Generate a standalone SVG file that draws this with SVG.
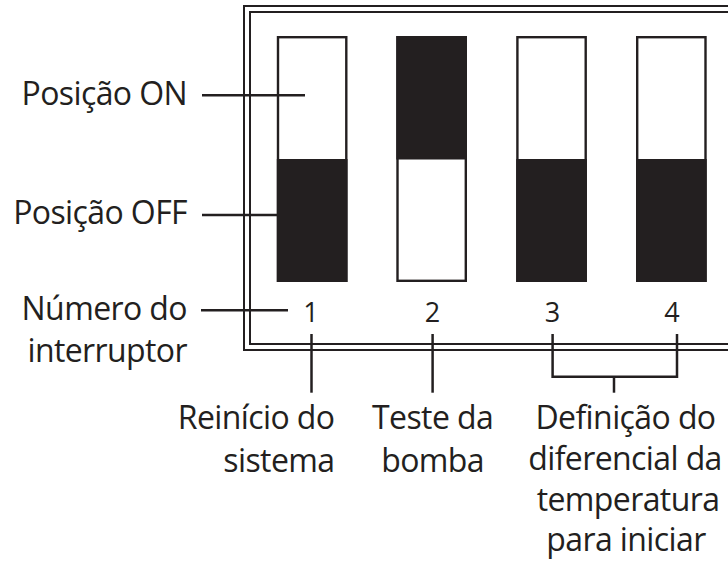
<svg xmlns="http://www.w3.org/2000/svg" width="728" height="567" viewBox="0 0 728 567">
<style>
.t{font-family:"Open Sans","Noto Sans",sans-serif;font-size:32px;letter-spacing:-0.6px;fill:#231f20}
.n{font-family:"Open Sans","Noto Sans",sans-serif;font-size:27px;fill:#231f20;text-anchor:middle}
.ln{stroke:#231f20;stroke-width:2.5;fill:none}
.fr{stroke:#231f20;stroke-width:2;fill:none}
.sw{stroke:#231f20;stroke-width:2.4;fill:#fff}
.bk{fill:#231f20}
</style>
<rect width="728" height="567" fill="#fff"/>
<g id="frame">
<path class="fr" d="M740,6 H244 V350 H740"/>
<path class="fr" d="M740,12 H250 V344 H740"/>
</g>
<g id="switch1">
<rect class="sw" x="278" y="37.2" width="68.3" height="243.6"/>
<rect class="bk" x="276.8" y="159" width="70.7" height="123"/>
<text class="n" x="311" y="321.7">1</text>
</g>
<g id="switch2">
<rect class="sw" x="397.5" y="37.2" width="68.3" height="243.6"/>
<rect class="bk" x="396.3" y="36" width="70.7" height="123.5"/>
<text class="n" x="432.5" y="321.7">2</text>
</g>
<g id="switch3">
<rect class="sw" x="517.4" y="37.2" width="68.3" height="243.6"/>
<rect class="bk" x="516.2" y="159" width="70.7" height="123"/>
<text class="n" x="552.5" y="321.7">3</text>
</g>
<g id="switch4">
<rect class="sw" x="637.2" y="37.2" width="68.3" height="243.6"/>
<rect class="bk" x="636" y="159" width="70.7" height="123"/>
<text class="n" x="672" y="321.7">4</text>
</g>
<g id="connectors">
<line class="ln" x1="202" y1="95.3" x2="305" y2="95.3"/>
<line class="ln" x1="202" y1="215" x2="277" y2="215"/>
<line class="ln" x1="201" y1="310.3" x2="288" y2="310.3"/>
<line class="ln" x1="311.5" y1="334" x2="311.5" y2="392.7"/>
<line class="ln" x1="432.6" y1="334" x2="432.6" y2="392.7"/>
<path class="ln" d="M552.6,334 V376.7 H677 V334"/>
<line class="ln" x1="614" y1="376.7" x2="614" y2="392.7"/>
</g>
<g id="label-on"><text class="t" x="187" y="105" text-anchor="end">Posição ON</text></g>
<g id="label-off"><text class="t" x="187" y="224" text-anchor="end">Posição OFF</text></g>
<g id="label-numero"><text class="t" x="187" y="319.5" text-anchor="end">Número do</text><text class="t" x="187" y="361.7" text-anchor="end">interruptor</text></g>
<g id="label-reinicio"><text class="t" x="334.5" y="428.5" text-anchor="end">Reinício do</text><text class="t" x="334.5" y="471.5" text-anchor="end">sistema</text></g>
<g id="label-teste"><text class="t" x="432.6" y="428.5" text-anchor="middle">Teste da</text><text class="t" x="432.6" y="471.5" text-anchor="middle">bomba</text></g>
<g id="label-definicao">
<text class="t" x="625.5" y="429" text-anchor="middle">Definição do</text>
<text class="t" x="625" y="470" text-anchor="middle">diferencial da</text>
<text class="t" x="628" y="510.5" text-anchor="middle">temperatura</text>
<text class="t" x="626" y="551" text-anchor="middle">para iniciar</text>
</g>
</svg>
